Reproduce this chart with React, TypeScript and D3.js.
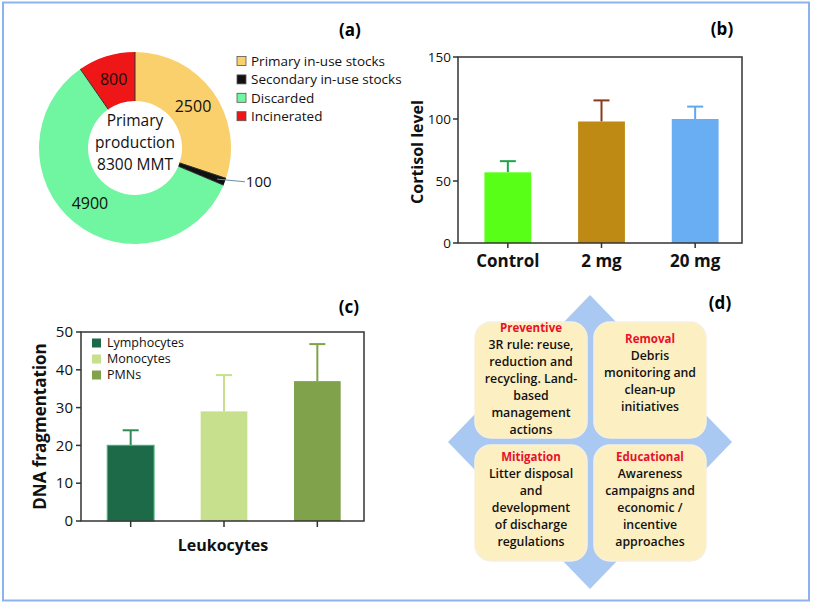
import React from "react";
import * as d3 from "d3";

const pieLabels = ["Primary in-use stocks", "Secondary in-use stocks", "Discarded", "Incinerated"];
const pieValues = [2500, 100, 4900, 800];
const pieColors = ["#F9D06C", "#111111", "#70F5A0", "#EE1616"];

const bCategories = ["Control", "2 mg", "20 mg"];
const bValues = [57, 98, 100];
const bErrors = [66, 115, 110];
const bColors = ["#58FF16", "#BE8A14", "#69AEF2"];
const bErrColors = ["#1FA24A", "#8A3A18", "#60A8EE"];
const bTicks = [0, 50, 100, 150];

const cCategories = ["Lymphocytes", "Monocytes", "PMNs"];
const cValues = [20, 29, 37];
const cErrors = [24, 38.6, 46.8];
const cColors = ["#1D6A48", "#C6E08E", "#7FA24A"];
const cTicks = [0, 10, 20, 30, 40, 50];

const dTitles = ["Preventive", "Removal", "Mitigation", "Educational"];
const dBodies = [
  ["3R rule: reuse,", "reduction and", "recycling. Land-", "based", "management", "actions"],
  ["Debris", "monitoring and", "clean-up", "initiatives"],
  ["Litter disposal", "and", "development", "of discharge", "regulations"],
  ["Awareness", "campaigns and", "economic /", "incentive", "approaches"],
];

const FONT = "'Open Sans', 'Noto Sans', sans-serif";

function Donut() {
  const cx = 135, cy = 148, ri = 47, ro = 96;
  const pie = d3.pie<number>().sort(null).value((d) => d)(pieValues);
  const arc = d3.arc<d3.PieArcDatum<number>>().innerRadius(ri).outerRadius(ro);
  const seps = pie.map((p) => p.startAngle);
  const small = pie[1];
  const smid = (small.startAngle + small.endAngle) / 2;
  return (
    <g>
      <g transform={`translate(${cx},${cy})`}>
        {pie.map((p, i) => (
          <path key={i} d={arc(p) || ""} fill={pieColors[i]} />
        ))}
        {seps.map((a, i) => (
          <line key={i} x1={ri * Math.sin(a)} y1={-ri * Math.cos(a)} x2={ro * Math.sin(a)} y2={-ro * Math.cos(a)} stroke="#333" strokeWidth={1} />
        ))}
        {pie.map((p, i) => {
          if (i === 1) return null;
          const [x, y] = arc.centroid(p);
          return (
            <text key={i} x={x} y={y} dy="0.35em" textAnchor="middle" fontSize={16} fontFamily={FONT} fill="#111">
              {pieValues[i]}
            </text>
          );
        })}
        <line x1={ro * 0.98 * Math.sin(smid) - 6} y1={-ro * 0.98 * Math.cos(smid) - 2} x2={ro * Math.sin(smid) + 20} y2={-ro * Math.cos(smid)} stroke="#6A8FA0" strokeWidth={1} />
        <text x={ro * Math.sin(smid) + 21} y={-ro * Math.cos(smid)} dy="0.35em" fontSize={15} fontFamily={FONT} fill="#111">
          {pieValues[1]}
        </text>
        <text textAnchor="middle" fontSize={15.5} fontFamily={FONT} fill="#111">
          <tspan x={0} y={-22}>Primary</tspan>
          <tspan x={0} y={0}>production</tspan>
          <tspan x={0} y={22}>8300 MMT</tspan>
        </text>
      </g>
      {pieLabels.map((l, i) => (
        <g key={i} transform={`translate(237,${61 + i * 18.4})`}>
          <rect x={0} y={-4.5} width={9} height={9} fill={pieColors[i]} stroke="#555" strokeWidth={0.8} />
          <text x={14} y={0} dy="0.35em" fontSize={13.5} fontFamily={FONT} fill="#111">{l}</text>
        </g>
      ))}
      <text x={350} y={30} dy="0.35em" textAnchor="middle" fontSize={17} fontWeight="bold" fontFamily={FONT}>(a)</text>
    </g>
  );
}

function PanelB() {
  const x0 = 458, x1 = 742, y0 = 243, y1 = 57;
  const x = d3.scaleBand<string>().domain(bCategories).range([x0 + 3, x1]).paddingInner(0.5).paddingOuter(0.25);
  const y = d3.scaleLinear().domain([0, 150]).range([y0, y1]);
  const bw = x.bandwidth();
  return (
    <g>
      {bCategories.map((c, i) => {
        const cx = (x(c) || 0) + bw / 2;
        return (
          <g key={c}>
            <line x1={cx} x2={cx} y1={y(bValues[i])} y2={y(bErrors[i])} stroke={bErrColors[i]} strokeWidth={2} />
            <line x1={cx - 8} x2={cx + 8} y1={y(bErrors[i])} y2={y(bErrors[i])} stroke={bErrColors[i]} strokeWidth={2} />
            <rect x={x(c)} y={y(bValues[i])} width={bw} height={y0 - y(bValues[i])} fill={bColors[i]} />
            <line x1={cx} x2={cx} y1={y0} y2={y0 + 5} stroke="#333" strokeWidth={1.5} />
            <text x={cx} y={y0 + 24} textAnchor="middle" fontSize={17} fontWeight="bold" fontFamily={FONT} fill="#111">{c}</text>
          </g>
        );
      })}
      <rect x={x0} y={y1} width={x1 - x0} height={y0 - y1} fill="none" stroke="#333" strokeWidth={1.5} />
      {bTicks.map((t) => (
        <g key={t}>
          <line x1={x0 - 5} x2={x0} y1={y(t)} y2={y(t)} stroke="#333" strokeWidth={1.5} />
          <text x={x0 - 7} y={y(t)} dy="0.35em" textAnchor="end" fontSize={13.5} fontFamily={FONT} fill="#111">{t}</text>
        </g>
      ))}
      <text transform={`translate(417,${(y0 + y1) / 2 + 2}) rotate(-90)`} textAnchor="middle" dy="0.35em" fontSize={16} fontWeight="bold" fontFamily={FONT} fill="#111">Cortisol level</text>
      <text x={722} y={29} dy="0.35em" textAnchor="middle" fontSize={17} fontWeight="bold" fontFamily={FONT}>(b)</text>
    </g>
  );
}

function PanelC() {
  const x0 = 81, x1 = 364, y0 = 521, y1 = 332;
  const x = d3.scaleBand<string>().domain(cCategories).range([x0 + 3, x1]).paddingInner(0.5).paddingOuter(0.25);
  const y = d3.scaleLinear().domain([0, 50]).range([y0, y1]);
  const bw = x.bandwidth();
  return (
    <g>
      {cCategories.map((c, i) => {
        const cx = (x(c) || 0) + bw / 2;
        return (
          <g key={c}>
            <line x1={cx} x2={cx} y1={y(cValues[i])} y2={y(cErrors[i])} stroke={i === 0 ? "#2E8B57" : cColors[i]} strokeWidth={2} />
            <line x1={cx - 8} x2={cx + 8} y1={y(cErrors[i])} y2={y(cErrors[i])} stroke={i === 0 ? "#2E8B57" : cColors[i]} strokeWidth={2} />
            <rect x={x(c)} y={y(cValues[i])} width={bw} height={y0 - y(cValues[i])} fill={cColors[i]} stroke={i === 0 ? "#3BB273" : "none"} strokeWidth={1.2} />
            <line x1={cx} x2={cx} y1={y0} y2={y0 + 6} stroke="#333" strokeWidth={1.5} />
          </g>
        );
      })}
      <rect x={x0} y={y1} width={x1 - x0} height={y0 - y1} fill="none" stroke="#333" strokeWidth={1.5} />
      {cTicks.map((t) => (
        <g key={t}>
          <line x1={x0 - 5} x2={x0} y1={y(t)} y2={y(t)} stroke="#333" strokeWidth={1.5} />
          <text x={x0 - 8} y={y(t)} dy="0.35em" textAnchor="end" fontSize={15} fontFamily={FONT} fill="#111">{t}</text>
        </g>
      ))}
      {cCategories.map((c, i) => (
        <g key={c} transform={`translate(92,${343 + i * 16})`}>
          <rect x={0} y={-4.5} width={9} height={9} fill={cColors[i]} />
          <text x={15} y={0} dy="0.35em" fontSize={12.5} fontFamily={FONT} fill="#111">{c}</text>
        </g>
      ))}
      <text transform={`translate(40,${(y0 + y1) / 2}) rotate(-90)`} textAnchor="middle" dy="0.35em" fontSize={17} fontWeight="bold" fontFamily={FONT} fill="#111">DNA fragmentation</text>
      <text x={223} y={545} dy="0.35em" textAnchor="middle" fontSize={16} fontWeight="bold" fontFamily={FONT} fill="#111">Leukocytes</text>
      <text x={349} y={307} dy="0.35em" textAnchor="middle" fontSize={17} fontWeight="bold" fontFamily={FONT}>(c)</text>
    </g>
  );
}

function PanelD() {
  const cx = 590, cy = 442;
  const boxes = [
    { x: 475, y: 322 },
    { x: 594, y: 322 },
    { x: 475, y: 445 },
    { x: 594, y: 445 },
  ];
  const bw = 112, bh = 116;
  const titleY = [328, 339, 457, 457];
  return (
    <g>
      <polygon points={`${cx},${cy - 147} ${cx + 142},${cy} ${cx},${cy + 147} ${cx - 142},${cy}`} fill="#A9C9F2" />
      {boxes.map((b, i) => {
        const mx = b.x + bw / 2;
        return (
          <g key={i}>
            <rect x={b.x} y={b.y} width={bw} height={bh} rx={16} fill="#FCEFC2" stroke="#F6F0DC" strokeWidth={1.5} />
            <text x={mx} y={titleY[i]} dy="0.35em" textAnchor="middle" fontSize={11.5} fontWeight="bold" fontFamily={FONT} fill="#E8102A">{dTitles[i]}</text>
            {dBodies[i].map((l, j) => (
              <text key={j} x={mx} y={titleY[i] + 17 * (j + 1)} dy="0.35em" textAnchor="middle" fontSize={12.3} fontWeight={600} fontFamily={FONT} fill="#111">{l}</text>
            ))}
          </g>
        );
      })}
      <text x={720} y={303} dy="0.35em" textAnchor="middle" fontSize={17} fontWeight="bold" fontFamily={FONT}>(d)</text>
    </g>
  );
}

export default function App() {
  return (
    <div style={{ position: "absolute", left: 0, top: 0 }}>
      <svg width={813} height={604} style={{ display: "block", background: "#fff" }}>
        <rect x={0} y={0} width={813} height={604} fill="#fff" />
        <PanelD />
        <rect x={3} y={2.5} width={806} height={598} fill="none" stroke="#8DB3EE" strokeWidth={2} />
        <Donut />
        <PanelB />
        <PanelC />
      </svg>
    </div>
  );
}
